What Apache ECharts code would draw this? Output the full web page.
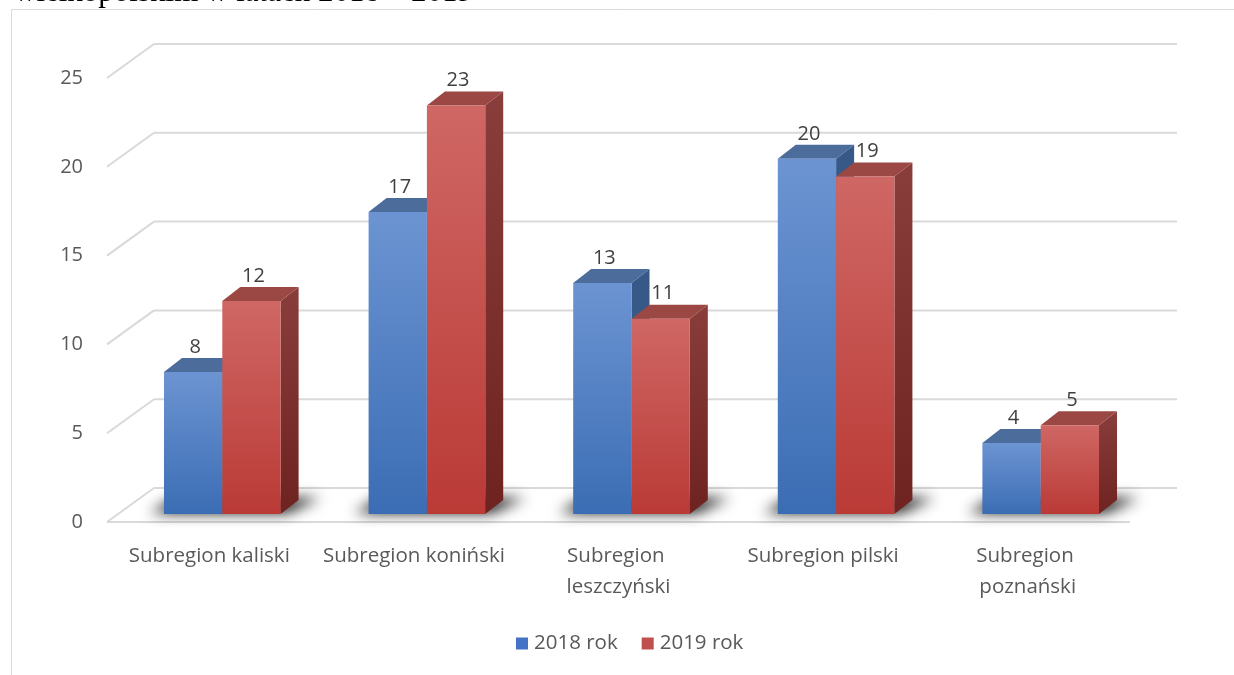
<!DOCTYPE html>
<html>
<head>
<meta charset="utf-8">
<script src="https://cdn.jsdelivr.net/npm/echarts@6/dist/echarts.min.js"></script>
<style>
  html, body { margin: 0; padding: 0; background: #fff; }
  #chart { width: 1234px; height: 675px; }
</style>
</head>
<body>
<div id="chart"></div>
<script>
// dane wykresu
var categories = ['Subregion kaliski', 'Subregion koniński', 'Subregion leszczyński', 'Subregion pilski', 'Subregion poznański'];
var seriesNames = ['2018 rok', '2019 rok'];
var values2018 = [8, 17, 13, 20, 4];
var values2019 = [12, 23, 11, 19, 5];
var yTicks = [0, 5, 10, 15, 20, 25];

// geometria "3D" (przesunięcia głębi w pikselach)
var DEPTH = [47, -34];      // głębokość podłogi / ściany
var BAR_SHIFT = [13, -8];   // przód słupka względem przodu podłogi
var BAR_DEPTH = [18, -14];  // głębokość słupka
var GRID_COLOR = '#d9d9d9';
var FONT = '"Open Sans"';

var faces = {
    blue: {
        front: new echarts.graphic.LinearGradient(0, 0, 0, 1, [
            { offset: 0, color: '#6c94d2' }, { offset: 1, color: '#3b6db4' }]),
        top: '#4c6c9c',
        side: '#375987'
    },
    red: {
        front: new echarts.graphic.LinearGradient(0, 0, 0, 1, [
            { offset: 0, color: '#cf6764' }, { offset: 1, color: '#ba3a36' }]),
        top: '#9b4845',
        side: new echarts.graphic.LinearGradient(0, 0, 0, 1, [
            { offset: 0, color: '#8a3e3b' }, { offset: 1, color: '#6e2321' }])
    }
};

function barItem(seriesIdx, style) {
    return function (params, api) {
        var idx = api.value(0);
        var top = api.coord([idx, api.value(1)]);
        var base = api.coord([idx, 0]);
        var w = api.size([1, 0])[0] * 0.285;
        var x0 = top[0] + BAR_SHIFT[0] - (seriesIdx === 0 ? w : 0);
        var x1 = x0 + w;
        var yT = top[1] + BAR_SHIFT[1];
        var yB = base[1] + BAR_SHIFT[1];
        var dx = BAR_DEPTH[0], dy = BAR_DEPTH[1];
        return {
            type: 'group',
            children: [
                { type: 'polygon', shape: { points: [[x1, yB], [x1 + dx, yB + dy], [x1 + dx, yT + dy], [x1, yT]] },
                  style: { fill: style.side } },
                { type: 'polygon', shape: { points: [[x0, yT], [x1, yT], [x1 + dx, yT + dy], [x0 + dx, yT + dy]] },
                  style: { fill: style.top } },
                { type: 'rect', shape: { x: x0, y: yT, width: w, height: yB - yT },
                  style: { fill: style.front } },
                { type: 'text', x: (x0 + x1) / 2 + 2, y: yT + dy - 1,
                  style: { text: String(api.value(1)), fill: '#404040', font: '20px ' + FONT,
                           align: 'center', verticalAlign: 'bottom' } }
            ]
        };
    };
}

var chart = echarts.init(document.getElementById('chart'));

var OFF = 3000; // kształt cienia poza ekranem, widoczny jest tylko rozmyty cień

var option = {
    animation: false,
    backgroundColor: '#ffffff',
    graphic: [
        { type: 'rect', left: 9, top: 7, shape: { width: 1240, height: 700 },
          style: { fill: 'none', stroke: '#d9d9d9', lineWidth: 1 }, z: -1 },
        { type: 'text', x: 14, y: 8,
          style: { text: 'wielkopolskim w latach 2018 – 2019', fill: '#000', font: '31px "Liberation Serif"',
                   verticalAlign: 'bottom' } }
    ],
    legend: {
        data: seriesNames,
        top: 628,
        left: 511,
        itemWidth: 12,
        itemHeight: 12,
        itemGap: 24,
        icon: 'rect',
        textStyle: { color: '#595959', fontSize: 20.5, fontFamily: 'Open Sans', padding: [0, 0, 0, 1] }
    },
    grid: { left: 107, right: 104, top: 78, bottom: 153 },
    xAxis: {
        type: 'category',
        data: categories,
        axisLine: { show: false },
        axisTick: { show: false },
        splitLine: { show: false },
        axisLabel: {
            color: '#595959', fontSize: 20.5, fontFamily: 'Open Sans', margin: 19,
            width: 194, overflow: 'break', lineHeight: 31, interval: 0
        }
    },
    yAxis: {
        type: 'value',
        min: 0, max: 25, interval: 5,
        axisLine: { show: false },
        axisTick: { show: false },
        splitLine: { show: false },
        axisLabel: { color: '#595959', fontSize: 20, fontFamily: 'Open Sans', margin: 24 }
    },
    series: [
        {
            // siatka: ściana tylna + podłoga
            type: 'custom',
            silent: true,
            z: 1,
            data: yTicks.map(function (v) { return [0, v]; }),
            renderItem: function (params, api) {
                var cs = params.coordSys;
                var y = api.coord([0, api.value(1)])[1];
                var x0 = cs.x, x1 = cs.x + cs.width;
                var ls = { stroke: GRID_COLOR, lineWidth: 2 };
                var kids = [
                    { type: 'line', shape: { x1: x0, y1: y, x2: x0 + DEPTH[0], y2: y + DEPTH[1] }, style: ls },
                    { type: 'line', shape: { x1: x0 + DEPTH[0], y1: y + DEPTH[1], x2: x1 + DEPTH[0], y2: y + DEPTH[1] }, style: ls }
                ];
                if (api.value(1) === 0) {
                    kids.push({ type: 'line', shape: { x1: x0, y1: y, x2: x1, y2: y }, style: ls });
                }
                return { type: 'group', children: kids };
            }
        },
        {
            // cienie pod słupkami
            type: 'custom',
            silent: true,
            z: 2,
            data: categories.map(function (c, i) { return [i, 0]; }),
            renderItem: function (params, api) {
                var p = api.coord([api.value(0), 0]);
                var w = api.size([1, 0])[0] * 0.285;
                var xL = p[0] + BAR_SHIFT[0] - w, xR = p[0] + BAR_SHIFT[0] + w;
                var yB = p[1] + BAR_SHIFT[1];
                var pts = [[xL - 14, yB - 1], [xR + 6, yB - 1],
                           [xR + BAR_DEPTH[0] + 22, yB + BAR_DEPTH[1] - 2], [xL + BAR_DEPTH[0] - 6, yB + BAR_DEPTH[1] - 2]];
                return {
                    type: 'polygon',
                    shape: { points: pts.map(function (q) { return [q[0] - OFF, q[1]]; }) },
                    style: { fill: '#000', shadowBlur: 14, shadowColor: 'rgba(0,0,0,0.92)', shadowOffsetX: OFF, shadowOffsetY: 0 }
                };
            }
        },
        {
            name: seriesNames[0],
            type: 'custom',
            z: 3,
            itemStyle: { color: '#4472c4' },
            data: values2018.map(function (v, i) { return [i, v]; }),
            renderItem: barItem(0, faces.blue)
        },
        {
            name: seriesNames[1],
            type: 'custom',
            z: 4,
            itemStyle: { color: '#c0504d' },
            data: values2019.map(function (v, i) { return [i, v]; }),
            renderItem: barItem(1, faces.red)
        }
    ]
};

chart.setOption(option);
</script>
</body>
</html>
